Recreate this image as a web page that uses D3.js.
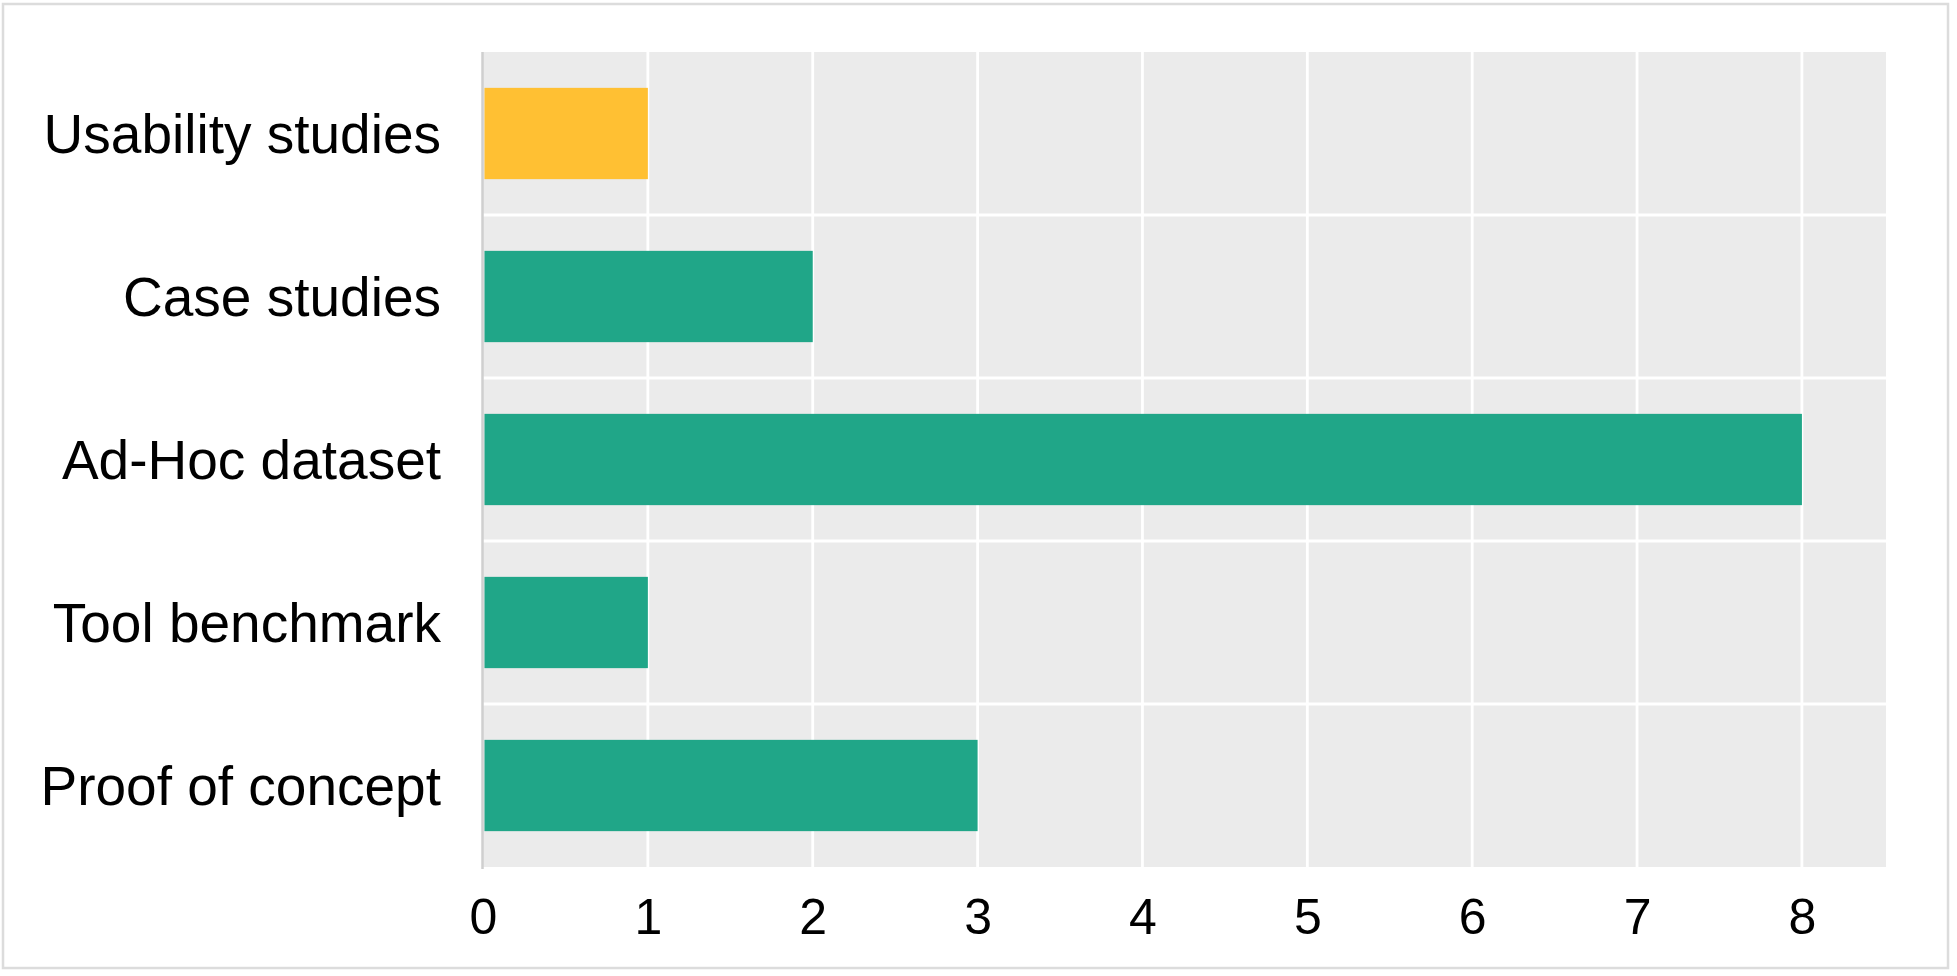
<!DOCTYPE html>
<html>
<head>
<meta charset="utf-8">
<script src="https://cdn.jsdelivr.net/npm/d3@7"></script>
<style>
  body { margin: 0; background: #fff; }
  svg { display: block; }
</style>
</head>
<body>
<div id="chart"></div>
<script>
// data
var categories = ["Usability studies", "Case studies", "Ad-Hoc dataset", "Tool benchmark", "Proof of concept"];
var counts = [1, 2, 8, 1, 3];
var barColors = ["#ffc033", "#20a688", "#20a688", "#20a688", "#20a688"];
var xTicks = [0, 1, 2, 3, 4, 5, 6, 7, 8];

var W = 1957, H = 976;
var margin = {top: 52, right: 71, bottom: 109, left: 483};
var width = W - margin.left - margin.right,
    height = H - margin.top - margin.bottom;

var svg = d3.select("#chart")
    .append("svg")
    .attr("width", W)
    .attr("height", H);

// outer frame
svg.append("rect")
    .attr("x", 3)
    .attr("y", 4)
    .attr("width", 1945)
    .attr("height", 964)
    .attr("fill", "none")
    .attr("stroke", "#dcdcdc")
    .attr("stroke-width", 2.5);

var g = svg.append("g")
    .attr("transform", "translate(" + margin.left + "," + margin.top + ")");

var x = d3.scaleLinear()
    .domain([0, 8.51])
    .range([0, width]);

var y = d3.scaleBand()
    .domain(categories)
    .range([0, height])
    .paddingInner(0.44)
    .paddingOuter(0.22);

// panel background
g.append("rect")
    .attr("x", 0)
    .attr("y", 0)
    .attr("width", width)
    .attr("height", height)
    .attr("fill", "#ebebeb");

// vertical grid
g.selectAll(".vgrid")
    .data(xTicks.filter(function(d) { return d > 0; }))
    .enter()
    .append("line")
    .attr("class", "vgrid")
    .attr("x1", function(d) { return x(d); })
    .attr("x2", function(d) { return x(d); })
    .attr("y1", 0)
    .attr("y2", height)
    .attr("stroke", "#fff")
    .attr("stroke-width", 2.8);

// horizontal grid between the rows
var step = y.step();
g.selectAll(".hgrid")
    .data(categories.slice(1))
    .enter()
    .append("line")
    .attr("class", "hgrid")
    .attr("x1", 0)
    .attr("x2", width)
    .attr("y1", function(d) { return y(d) - step * 0.22; })
    .attr("y2", function(d) { return y(d) - step * 0.22; })
    .attr("stroke", "#fff")
    .attr("stroke-width", 2.8);

// bars
g.selectAll(".bar")
    .data(categories)
    .enter()
    .append("rect")
    .attr("class", "bar")
    .attr("x", x(0) + 1.5)
    .attr("y", function(d) { return y(d); })
    .attr("width", function(d, i) { return x(counts[i]) - x(0) - 1.5; })
    .attr("height", y.bandwidth())
    .attr("fill", function(d, i) { return barColors[i]; });

// left axis line
g.append("line")
    .attr("x1", -0.5)
    .attr("x2", -0.5)
    .attr("y1", 0)
    .attr("y2", height + 2)
    .attr("stroke", "#cfcfcf")
    .attr("stroke-width", 2.5);

// x axis labels
var xAxis = d3.axisBottom(x).tickValues(xTicks).tickSize(0).tickPadding(0);
g.append("g")
    .attr("class", "x axis")
    .attr("transform", "translate(0," + height + ")")
    .call(xAxis)
    .call(function(a) { a.select(".domain").remove(); })
    .selectAll("text")
    .attr("dy", null)
    .attr("y", 67)
    .attr("fill", "#000")
    .style("font-size", "50px")
    .style("font-family", "'Liberation Sans', Arial, Helvetica, sans-serif");

// y axis labels
var yAxis = d3.axisLeft(y).tickSize(0).tickPadding(42);
g.append("g")
    .attr("class", "y axis")
    .call(yAxis)
    .call(function(a) { a.select(".domain").remove(); })
    .selectAll("text")
    .attr("fill", "#000")
    .attr("dy", "0.36em")
    .style("font-size", "55px")
    .style("font-family", "'Liberation Sans', Arial, Helvetica, sans-serif");
</script>
</body>
</html>
